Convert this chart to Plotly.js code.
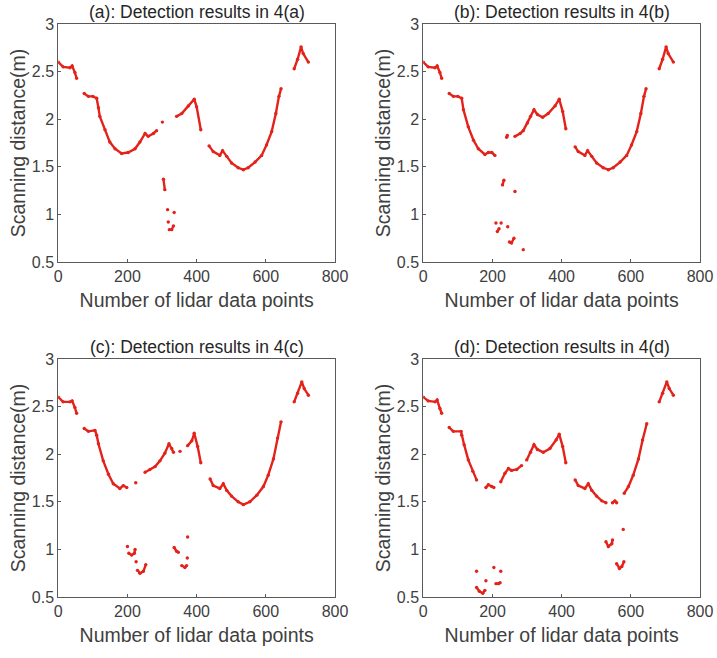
<!DOCTYPE html>
<html><head><meta charset="utf-8">
<script src="https://cdn.plot.ly/plotly-3.0.1.min.js"></script>
<style>html,body{margin:0;padding:0;background:#fff}#g{width:717px;height:658px}</style>
</head><body><div id="g"></div>
<script>
const panelTitles = ["(a): Detection results in 4(a)", "(b): Detection results in 4(b)", "(c): Detection results in 4(c)", "(d): Detection results in 4(d)"];
const xTitle = "Number of lidar data points";
const yTitle = "Scanning distance(m)";
const xTicks = [0, 200, 400, 600, 800];
const yTicks = [0.5, 1, 1.5, 2, 2.5, 3];

// Panel (a)
const xA = [0,14,34,40,48,53,null,75,87,100,111,116,120,135,149,164,183,202,222,236,251,260,275,284,null,301,null,342,357,376,393,400,412,null,436,448,467,475,487,501,520,535,549,569,588,602,617,629,638,644,null,682,692,702,708,723,null,304,308,null,316,null,335,null,318,null,321,328,333];
const yA = [2.6,2.55,2.54,2.56,2.49,2.43,null,2.27,2.24,2.24,2.22,2.12,2.03,1.89,1.76,1.69,1.64,1.65,1.69,1.76,1.85,1.82,1.85,1.88,null,1.97,null,2.03,2.06,2.14,2.21,2.13,1.89,null,1.72,1.66,1.62,1.67,1.61,1.54,1.49,1.47,1.49,1.55,1.62,1.73,1.87,2.06,2.24,2.32,null,2.53,2.63,2.76,2.69,2.6,null,1.37,1.26,null,1.05,null,1.02,null,0.92,null,0.84,0.84,0.88];

// Panel (b)
const xB = [0,14,34,40,48,53,null,75,87,100,111,116,130,145,159,178,188,198,207,null,241,243,null,265,280,289,301,310,320,330,345,361,381,393,403,412,null,439,448,467,475,487,501,520,535,549,569,588,602,617,629,638,644,null,682,692,702,708,723,null,229,233,null,265,null,210,null,225,null,214,219,null,244,null,249,255,262,null,289];
const yB = [2.6,2.55,2.54,2.56,2.49,2.43,null,2.27,2.24,2.24,2.22,2.1,1.92,1.78,1.69,1.63,1.65,1.65,1.62,null,1.81,1.83,null,1.82,1.85,1.88,1.96,2.03,2.1,2.05,2.02,2.06,2.14,2.21,2.08,1.9,null,1.71,1.66,1.62,1.67,1.61,1.54,1.49,1.47,1.49,1.55,1.62,1.73,1.87,2.06,2.24,2.32,null,2.53,2.63,2.76,2.69,2.6,null,1.31,1.36,null,1.24,null,0.91,null,0.91,null,0.82,0.85,null,0.87,null,0.71,0.7,0.75,null,0.63];

// Panel (c)
const xC = [0,14,34,40,48,53,null,75,87,106,111,116,130,145,159,178,188,198,null,224,null,251,265,280,294,308,320,328,333,null,352,null,374,386,393,403,412,null,439,448,467,477,487,501,520,535,554,574,593,607,622,634,644,null,682,692,704,711,723,null,200,null,204,212,220,222,null,225,null,229,236,246,253,null,335,342,347,null,374,null,373,null,357,366,371];
const yC = [2.6,2.55,2.55,2.56,2.49,2.43,null,2.27,2.24,2.25,2.2,2.11,1.93,1.79,1.69,1.64,1.67,1.65,null,1.7,null,1.81,1.84,1.87,1.93,2.01,2.11,2.06,2.02,null,2.03,null,2.09,2.14,2.22,2.08,1.91,null,1.74,1.67,1.64,1.69,1.62,1.56,1.5,1.47,1.5,1.57,1.66,1.78,1.95,2.17,2.34,null,2.55,2.64,2.76,2.69,2.62,null,1.03,null,0.96,0.94,0.96,1.0,null,0.87,null,0.78,0.75,0.77,0.84,null,1.02,0.98,0.97,null,1.13,null,0.91,null,0.83,0.81,0.83];

// Panel (d)
const xD = [0,14,34,40,48,53,null,75,87,109,111,118,130,143,154,null,181,188,198,204,null,224,236,246,255,270,284,null,299,310,320,330,347,366,384,393,403,412,null,439,448,467,477,487,501,516,528,null,547,554,559,null,581,593,607,622,634,646,null,682,692,704,711,723,null,154,null,181,null,204,null,224,null,210,217,222,null,154,162,172,178,null,528,535,545,547,null,578,null,559,567,574,580];
const yD = [2.6,2.56,2.55,2.57,2.48,2.43,null,2.28,2.24,2.24,2.2,2.1,1.94,1.82,1.73,null,1.65,1.68,1.66,1.65,null,1.71,1.8,1.85,1.83,1.84,1.88,null,1.94,2.02,2.1,2.05,2.02,2.06,2.15,2.21,2.08,1.91,null,1.73,1.67,1.64,1.69,1.62,1.56,1.51,1.49,null,1.49,1.51,1.49,null,1.59,1.66,1.78,1.95,2.15,2.32,null,2.55,2.64,2.76,2.69,2.62,null,0.77,null,0.67,null,0.81,null,0.77,null,0.64,0.64,0.65,null,0.6,0.56,0.54,0.57,null,1.08,1.03,1.06,1.1,null,1.21,null,0.85,0.8,0.82,0.87];

const series = [[xA,yA],[xB,yB],[xC,yC],[xD,yD]];
const red = '#e3231b';
const dom = [
  {x:[0.0813,0.4672], y:[0.6018,0.9635]},
  {x:[0.5904,0.9763], y:[0.6018,0.9635]},
  {x:[0.0813,0.4672], y:[0.0927,0.4544]},
  {x:[0.5904,0.9763], y:[0.0927,0.4544]}
];
const fontFam = 'Liberation Sans, Arial, sans-serif';
const data = [];
const layout = {
  width:717, height:658, margin:{l:0,r:0,t:0,b:0},
  paper_bgcolor:'#fff', plot_bgcolor:'#fff', showlegend:false,
  font:{family:fontFam, color:'#404040', size:16},
  annotations:[]
};
series.forEach((s,i)=>{
  const n = i===0 ? '' : String(i+1);
  data.push({x:s[0], y:s[1], xaxis:'x'+n, yaxis:'y'+n, type:'scatter', mode:'lines+markers',
    connectgaps:false, line:{color:red, width:2.4}, marker:{color:red, size:3.4}, hoverinfo:'skip'});
  const ax = {
    domain:dom[i].x, range:[0,800], tickvals:xTicks, ticktext:xTicks.map(String),
    showgrid:false, zeroline:false, showline:true, mirror:true, linecolor:'#5a5a5a', linewidth:1,
    ticks:'inside', ticklen:3, tickcolor:'#5a5a5a', tickfont:{size:16, color:'#404040'},
    anchor:'y'+n, title:{text:xTitle, font:{size:19.5, color:'#404040'}, standoff:9}
  };
  const ay = {
    domain:dom[i].y, range:[0.5,3], tickvals:yTicks, ticktext:yTicks.map(String),
    showgrid:false, zeroline:false, showline:true, mirror:true, linecolor:'#5a5a5a', linewidth:1,
    ticks:'inside', ticklen:3, tickcolor:'#5a5a5a', tickfont:{size:16, color:'#404040'},
    anchor:'x'+n, title:{text:yTitle, font:{size:19.5, color:'#404040'}, standoff:1}
  };
  layout['xaxis'+n] = ax;
  layout['yaxis'+n] = ay;
  layout.annotations.push({text:panelTitles[i], xref:'paper', yref:'paper',
    x:(dom[i].x[0]+dom[i].x[1])/2, y:dom[i].y[1], xanchor:'center', yanchor:'bottom', yshift:0,
    showarrow:false, font:{size:17.5, color:'#262626', family:fontFam}});
});
Plotly.newPlot('g', data, layout, {staticPlot:true, displayModeBar:false});
</script></body></html>
